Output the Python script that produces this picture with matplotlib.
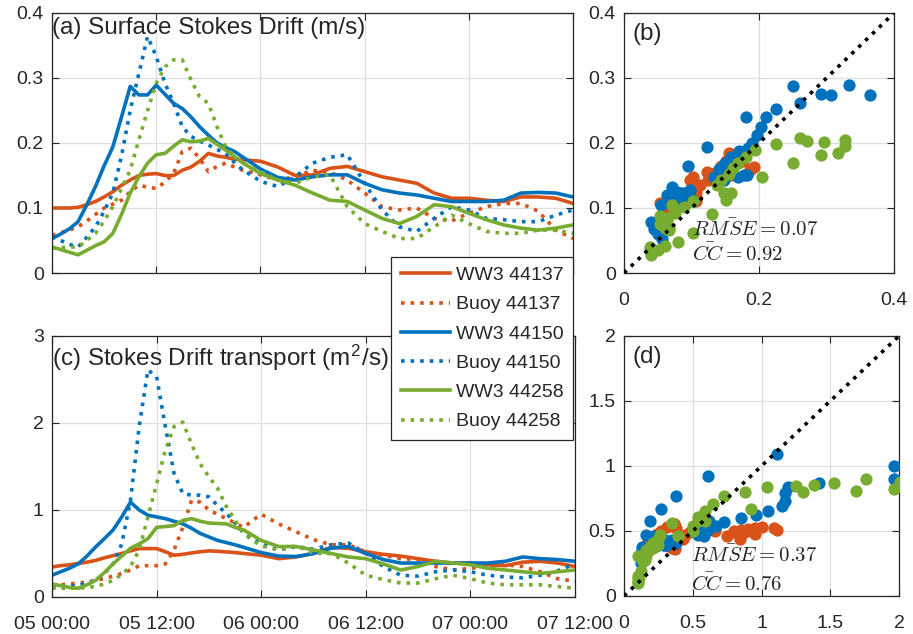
import matplotlib
matplotlib.use("Agg")
import matplotlib.pyplot as plt
import numpy as np

plt.rcParams['font.family'] = ['Liberation Sans', 'DejaVu Sans']
plt.rcParams['mathtext.fontset'] = 'cm'

# ---------------- data ----------------
hours = [0, 1, 2, 3, 4, 5, 6, 7, 8, 9, 10, 11, 12, 13, 14, 15, 16, 17, 18, 19, 20, 21, 22, 23, 24,
         26, 28, 30, 32, 34, 36, 38, 40, 42, 44, 46, 48, 50, 52, 54, 56, 58, 60]

time_ticks = [0, 12, 24, 36, 48, 60]
time_labels = ['05 00:00', '05 12:00', '06 00:00', '06 12:00', '07 00:00', '07 12:00']

stations = ['44137', '44150', '44258']

# Surface Stokes drift (m/s)
ww3_sfc_44137 = [0.100, 0.100, 0.100, 0.101, 0.105, 0.110, 0.117, 0.125, 0.135, 0.143, 0.150, 0.152, 0.153,
                 0.150, 0.150, 0.158, 0.163, 0.172, 0.184, 0.180, 0.178, 0.175, 0.174, 0.173, 0.172,
                 0.163, 0.150, 0.151, 0.161, 0.164, 0.156, 0.148, 0.143, 0.138, 0.123, 0.115, 0.115,
                 0.112, 0.110, 0.117, 0.117, 0.115, 0.107]
buoy_sfc_44137 = [0.058, 0.062, 0.066, 0.071, 0.080, 0.090, 0.100, 0.106, 0.112, 0.125, 0.135, 0.132, 0.130,
                  0.140, 0.153, 0.187, 0.192, 0.176, 0.156, 0.164, 0.169, 0.163, 0.158, 0.155, 0.151,
                  0.143, 0.148, 0.158, 0.155, 0.143, 0.123, 0.102, 0.097, 0.100, 0.084, 0.080, 0.092,
                  0.102, 0.107, 0.107, 0.095, 0.066, 0.053]
ww3_sfc_44150 = [0.053, 0.060, 0.068, 0.079, 0.105, 0.133, 0.165, 0.194, 0.240, 0.287, 0.274, 0.274, 0.289,
                 0.275, 0.261, 0.253, 0.240, 0.225, 0.212, 0.200, 0.193, 0.187, 0.178, 0.169, 0.160,
                 0.147, 0.143, 0.148, 0.151, 0.151, 0.138, 0.128, 0.123, 0.120, 0.115, 0.110, 0.110,
                 0.110, 0.112, 0.123, 0.124, 0.123, 0.117]
buoy_sfc_44150 = [0.056, 0.050, 0.044, 0.040, 0.055, 0.071, 0.095, 0.123, 0.180, 0.250, 0.307, 0.364, 0.333,
                  0.292, 0.261, 0.225, 0.210, 0.203, 0.197, 0.190, 0.184, 0.170, 0.158, 0.150, 0.141,
                  0.133, 0.148, 0.169, 0.178, 0.182, 0.138, 0.097, 0.071, 0.064, 0.084, 0.102, 0.097,
                  0.084, 0.082, 0.079, 0.079, 0.089, 0.097]
ww3_sfc_44258 = [0.040, 0.036, 0.032, 0.028, 0.035, 0.042, 0.048, 0.061, 0.090, 0.123, 0.148, 0.169, 0.182,
                 0.184, 0.195, 0.205, 0.202, 0.203, 0.207, 0.198, 0.189, 0.179, 0.169, 0.161, 0.153,
                 0.143, 0.135, 0.123, 0.112, 0.110, 0.097, 0.084, 0.076, 0.087, 0.105, 0.102, 0.092,
                 0.082, 0.074, 0.069, 0.066, 0.069, 0.074]
buoy_sfc_44258 = [0.038, 0.039, 0.040, 0.040, 0.050, 0.061, 0.080, 0.102, 0.130, 0.158, 0.205, 0.250, 0.292,
                  0.317, 0.328, 0.328, 0.297, 0.271, 0.261, 0.225, 0.194, 0.180, 0.169, 0.162, 0.156,
                  0.143, 0.138, 0.148, 0.151, 0.102, 0.076, 0.064, 0.053, 0.053, 0.071, 0.089, 0.076,
                  0.064, 0.061, 0.061, 0.066, 0.066, 0.061]

# Stokes drift transport (m^2/s)
ww3_tr_44137 = [0.345, 0.36, 0.37, 0.385, 0.40, 0.42, 0.45, 0.475, 0.50, 0.53, 0.556, 0.556, 0.556,
                0.52, 0.48, 0.49, 0.506, 0.52, 0.53, 0.525, 0.518, 0.51, 0.50, 0.49, 0.48,
                0.44, 0.46, 0.50, 0.57, 0.56, 0.52, 0.49, 0.47, 0.44, 0.41, 0.39, 0.39,
                0.37, 0.36, 0.40, 0.41, 0.39, 0.35]
buoy_tr_44137 = [0.13, 0.14, 0.15, 0.16, 0.17, 0.19, 0.21, 0.24, 0.27, 0.31, 0.36, 0.36, 0.36,
                 0.38, 0.54, 0.80, 1.11, 1.09, 1.00, 0.95, 0.90, 0.85, 0.80, 0.88, 0.95,
                 0.84, 0.75, 0.66, 0.60, 0.60, 0.52, 0.48, 0.44, 0.43, 0.35, 0.31, 0.33,
                 0.35, 0.37, 0.35, 0.29, 0.21, 0.18]
ww3_tr_44150 = [0.25, 0.29, 0.33, 0.38, 0.47, 0.575, 0.67, 0.77, 0.92, 1.09, 1.00, 0.94, 0.92,
                0.90, 0.87, 0.84, 0.79, 0.73, 0.69, 0.65, 0.625, 0.60, 0.57, 0.54, 0.51,
                0.47, 0.465, 0.50, 0.56, 0.58, 0.50, 0.43, 0.39, 0.39, 0.39, 0.39, 0.39,
                0.39, 0.41, 0.46, 0.44, 0.43, 0.41]
buoy_tr_44150 = [0.12, 0.12, 0.125, 0.13, 0.16, 0.19, 0.27, 0.38, 0.61, 1.11, 1.96, 2.61, 2.53,
                 1.96, 1.42, 1.19, 1.17, 1.17, 1.15, 1.05, 0.96, 0.85, 0.73, 0.67, 0.61,
                 0.54, 0.58, 0.55, 0.60, 0.62, 0.50, 0.35, 0.25, 0.24, 0.29, 0.31, 0.29,
                 0.25, 0.23, 0.22, 0.25, 0.30, 0.38]
ww3_tr_44258 = [0.15, 0.13, 0.11, 0.10, 0.14, 0.19, 0.28, 0.38, 0.47, 0.56, 0.61, 0.67, 0.80,
                0.81, 0.82, 0.88, 0.90, 0.87, 0.85, 0.845, 0.84, 0.80, 0.77, 0.71, 0.65,
                0.58, 0.58, 0.54, 0.50, 0.46, 0.44, 0.38, 0.31, 0.35, 0.41, 0.39, 0.37,
                0.33, 0.31, 0.29, 0.27, 0.29, 0.31]
buoy_tr_44258 = [0.10, 0.10, 0.10, 0.10, 0.11, 0.12, 0.15, 0.19, 0.26, 0.35, 0.54, 0.92, 1.30,
                 1.69, 1.96, 2.01, 1.76, 1.53, 1.38, 1.25, 1.04, 0.88, 0.73, 0.65, 0.59,
                 0.54, 0.59, 0.50, 0.50, 0.39, 0.25, 0.20, 0.16, 0.16, 0.21, 0.25, 0.21,
                 0.16, 0.14, 0.14, 0.14, 0.12, 0.10]

rmse_sfc, cc_sfc = 0.07, 0.92
rmse_tr, cc_tr = 0.37, 0.76

# ---------------- style ----------------
colors = ['#D95319', '#0072BD', '#77AC30']
grid_c = '#dedede'
axis_c = '#262626'
FS = 14

ww3_sfc = [ww3_sfc_44137, ww3_sfc_44150, ww3_sfc_44258]
buoy_sfc = [buoy_sfc_44137, buoy_sfc_44150, buoy_sfc_44258]
ww3_tr = [ww3_tr_44137, ww3_tr_44150, ww3_tr_44258]
buoy_tr = [buoy_tr_44137, buoy_tr_44150, buoy_tr_44258]

fig = plt.figure(figsize=(9.13, 6.34), dpi=100)
ax_a = fig.add_axes([0.0570, 0.5694, 0.5707, 0.4101])
ax_c = fig.add_axes([0.0570, 0.0584, 0.5728, 0.4117])
ax_b = fig.add_axes([0.6835, 0.5694, 0.2957, 0.4101])
ax_d = fig.add_axes([0.6835, 0.0600, 0.3012, 0.4101])


def style(ax):
    ax.grid(True, color=grid_c, lw=0.9)
    ax.set_axisbelow(True)
    ax.tick_params(direction='in', top=True, right=True, length=5, width=0.8,
                   labelsize=FS, colors=axis_c)
    ax.tick_params(axis='y', pad=6)
    ax.tick_params(axis='x', pad=14)
    for s in ax.spines.values():
        s.set_color(axis_c)
        s.set_linewidth(0.9)


handles = []
for ax, ww3, buoy in [(ax_a, ww3_sfc, buoy_sfc), (ax_c, ww3_tr, buoy_tr)]:
    for i, st in enumerate(stations):
        h1, = ax.plot(hours, ww3[i], '-', color=colors[i], lw=2.6, label='WW3 ' + st)
        h2, = ax.plot(hours, buoy[i], ':', color=colors[i], lw=2.6, label='Buoy ' + st)
        if ax is ax_a:
            handles += [h1, h2]
    ax.set_xlim(time_ticks[0], time_ticks[-1])
    ax.set_xticks(time_ticks)
    style(ax)

ax_a.set_ylim(0, 0.4)
ax_a.set_yticks([0, 0.1, 0.2, 0.3, 0.4])
ax_a.set_yticklabels(['0', '0.1', '0.2', '0.3', '0.4'])
ax_a.set_xticklabels([])
ax_c.set_ylim(0, 3)
ax_c.set_yticks([0, 1, 2, 3])
ax_c.set_yticklabels(['0', '1', '2', '3'])
ax_c.set_xticklabels(time_labels)

ax_a.text(0.0, 0.985, '(a) Surface Stokes Drift (m/s)', transform=ax_a.transAxes,
          ha='left', va='top', fontsize=17.5, color=axis_c)
ax_c.text(0.0, 0.975, r'(c) Stokes Drift transport (m$^\mathregular{2}$/s)', transform=ax_c.transAxes,
          ha='left', va='top', fontsize=17.5, color=axis_c)

# scatter panels
for ax, ww3, buoy, lim, ticks, tl, rm, cc, lab, txy in [
        (ax_b, ww3_sfc, buoy_sfc, 0.4, [0, 0.2, 0.4], ['0', '0.2', '0.4'], rmse_sfc, cc_sfc, '(b)', (0.1, 0.067, 0.030)),
        (ax_d, ww3_tr, buoy_tr, 2.0, [0, 0.5, 1, 1.5, 2], ['0', '0.5', '1', '1.5', '2'], rmse_tr, cc_tr, '(d)', (0.49, 0.31, 0.09))]:
    for i in range(3):
        ax.scatter(buoy[i], ww3[i], s=78, color=colors[i], linewidths=0, zorder=3)
    ax.plot([0, lim], [0, lim], ':', color='black', lw=2.6, zorder=4)
    ax.set_xlim(0, lim)
    ax.set_ylim(0, lim)
    ax.set_xticks(ticks)
    ax.set_xticklabels(tl)
    style(ax)
    ax.text(0.03, 0.96, lab, transform=ax.transAxes, ha='left', va='top', fontsize=17.5, color=axis_c)
    ax.text(txy[0], txy[1], r'$\bar{RMSE}=%.2f$' % rm, ha='left', va='center', fontsize=15, color=axis_c, zorder=5)
    ax.text(txy[0], txy[2], r'$\bar{CC}=%.2f$' % cc, ha='left', va='center', fontsize=15, color=axis_c, zorder=5)

ax_b.set_yticks([0, 0.1, 0.2, 0.3, 0.4])
ax_b.set_yticklabels(['0', '0.1', '0.2', '0.3', '0.4'])
ax_d.set_yticks([0, 0.5, 1, 1.5, 2])
ax_d.set_yticklabels(['0', '0.5', '1', '1.5', '2'])

leg = fig.legend(handles=handles, loc='upper right', bbox_to_anchor=(0.6276, 0.595),
                 fontsize=FS, frameon=True, fancybox=False, framealpha=1, edgecolor=axis_c,
                 handlelength=2.5, labelspacing=0.6, borderpad=0.5, handletextpad=0.3,
                 borderaxespad=0)
leg.get_frame().set_linewidth(0.9)
for t in leg.get_texts():
    t.set_color(axis_c)

fig.savefig('out.png', dpi=100)
